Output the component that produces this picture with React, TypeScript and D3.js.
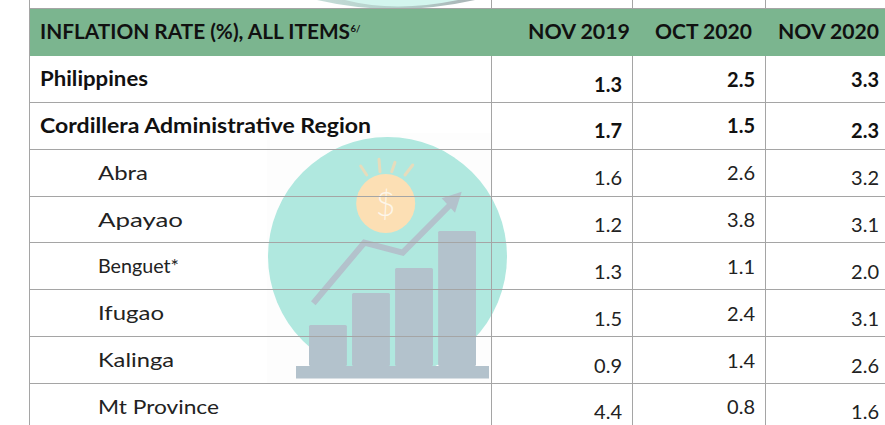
import React from "react";
import * as d3 from "d3";

const W = 885, H = 425;
const headerTitle = "INFLATION RATE (%), ALL ITEMS";
const headerNote = "6/";
const periods = ["NOV 2019", "OCT 2020", "NOV 2020"];
const regions = ["Philippines", "Cordillera Administrative Region", "Abra", "Apayao", "Benguet*", "Ifugao", "Kalinga", "Mt Province"];
const nov2019 = ["1.3", "1.7", "1.6", "1.2", "1.3", "1.5", "0.9", "4.4"];
const oct2020 = ["2.5", "1.5", "2.6", "3.8", "1.1", "2.4", "1.4", "0.8"];
const nov2020 = ["3.3", "2.3", "3.2", "3.1", "2.0", "3.1", "2.6", "1.6"];
const boldRows = ["Philippines", "Cordillera Administrative Region"];
const artBars = [1, 2, 3, 4];
const artHeights = [41, 73, 98, 135];

// layout only: rendered widths of the labels in the reference's wide typeface
const labelWidths = [108, 331, 50, 85, 81, 66, 76, 121];
const periodWidths = [102, 97, 101];

const FONT = "Lato, 'Noto Sans', sans-serif";
const LINE = "#a5a5a5";

export default function App() {
  const y = d3.scaleBand<string>().domain(regions).range([55.5, 430.3]);
  const colEdges = [491.5, 632.5, 765.5];
  const valueRight = [622, 755, 879];
  const headerRight = [630, 752, 879];
  const columns = [nov2019, oct2020, nov2020];
  const barX = d3.scaleBand<number>().domain(artBars).range([309, 476]).paddingInner(0.12);
  const barH = d3.scaleLinear().domain([0, 135]).range([366, 231]);
  const arrow = d3.line()([[313.3, 303.3], [364.3, 242.7], [402.7, 252.7], [453, 202]]) as string;
  const rays = [
    [360.7, 166, 366.7, 175],
    [379, 159.3, 380, 171.7],
    [395, 162.3, 391.7, 171.7],
    [412.7, 165, 405, 175],
  ];

  return (
    <svg width={W} height={H} style={{ position: "absolute", left: 0, top: 0, background: "#fff" }}>
      <defs>
        <linearGradient id="topArc" x1="0" x2="1" y1="0" y2="0">
          <stop offset="0" stopColor="#c4dcd7" />
          <stop offset="0.5" stopColor="#b4d0cb" />
          <stop offset="1" stopColor="#a9b4b6" />
        </linearGradient>
      </defs>
      {/* arc of the previous watermark */}
      <path d="M317 0 Q395 18 475 0 Z" fill="url(#topArc)" />
      <path d="M345 0 Q395 13 458 0 Z" fill="#d3f5ee" />

      {/* watermark */}
      <rect x={267} y={133} width={226} height={250} fill="#fdfdfd" />
      <circle cx={387.5} cy={256.5} r={119.5} fill="#b0e8df" />
      <g stroke="#e6dcbc" strokeWidth={3} strokeLinecap="round">
        {rays.map(([x1, y1, x2, y2], i) => (
          <line key={i} x1={x1} y1={y1} x2={x2} y2={y2} />
        ))}
      </g>
      <circle cx={385.7} cy={203.5} r={29.5} fill="#fcdfb4" />
      <text x={385.5} y={216} textAnchor="middle" fontFamily={FONT} fontSize={34} fontWeight={300} fill="#fdf6ea">$</text>
      <path d={arrow} fill="none" stroke="#b3c2cc" strokeWidth={6} />
      <polygon points="441.7,198.3 461.7,191.7 455,212.7" fill="#b3c2cc" />
      {artBars.map((b, i) => (
        <rect key={b} x={barX(b)} y={barH(artHeights[i])} width={barX.bandwidth()} height={barH(0) - barH(artHeights[i])} rx={1.5} fill="#b3c2cc" />
      ))}
      <rect x={296} y={366} width={193} height={12.5} fill="#b3c2cc" />

      {/* header */}
      <rect x={29} y={8} width={W - 29} height={48} fill="#7bb58f" />
      <line x1={29} x2={W} y1={8.5} y2={8.5} stroke={LINE} />
      <text x={40} y={39} fontFamily={FONT} fontSize={20} fontWeight={700} fill="#111" textLength={310} lengthAdjust="spacingAndGlyphs">{headerTitle}</text>
      <text x={350.5} y={32} fontFamily={FONT} fontSize={9.5} fontWeight={700} fill="#111">{headerNote}</text>
      {periods.map((p, i) => (
        <text key={p} x={headerRight[i] - periodWidths[i]} y={39} fontFamily={FONT} fontSize={20} fontWeight={700} fill="#111" textLength={periodWidths[i]} lengthAdjust="spacingAndGlyphs">{p}</text>
      ))}

      {/* grid */}
      <line x1={29.5} x2={29.5} y1={0} y2={H} stroke={LINE} />
      {colEdges.map((x) => (
        <g key={x}>
          <line x1={x} x2={x} y1={0} y2={8} stroke={LINE} />
          <line x1={x} x2={x} y1={56} y2={H} stroke={LINE} />
        </g>
      ))}
      {regions.map((r) => (
        <line key={r} x1={29} x2={W} y1={Math.floor(y(r)! + y.bandwidth()) + 0.5} y2={Math.floor(y(r)! + y.bandwidth()) + 0.5} stroke={LINE} />
      ))}

      {/* body */}
      {regions.map((r, ri) => {
        const bold = boldRows.includes(r);
        const base = y(r)! + 30.5;
        return (
          <g key={r}>
            <text x={bold ? 40 : 98} y={base} fontFamily={FONT} fontSize={20} fontWeight={bold ? 700 : 400} fill={bold ? "#111" : "#222"} textLength={labelWidths[ri]} lengthAdjust="spacingAndGlyphs">{r}</text>
            {columns.map((c, ci) => {
              const low = ci === 0 || (ci === 2 && ri > 0);
              return (
                <text key={ci} x={valueRight[ci]} y={base + (low ? 5.5 : 0.5)} textAnchor="end" fontFamily={FONT} fontSize={20} fontWeight={bold ? 700 : 400} fill={bold ? "#111" : "#222"}>{c[ri]}</text>
              );
            })}
          </g>
        );
      })}
    </svg>
  );
}
